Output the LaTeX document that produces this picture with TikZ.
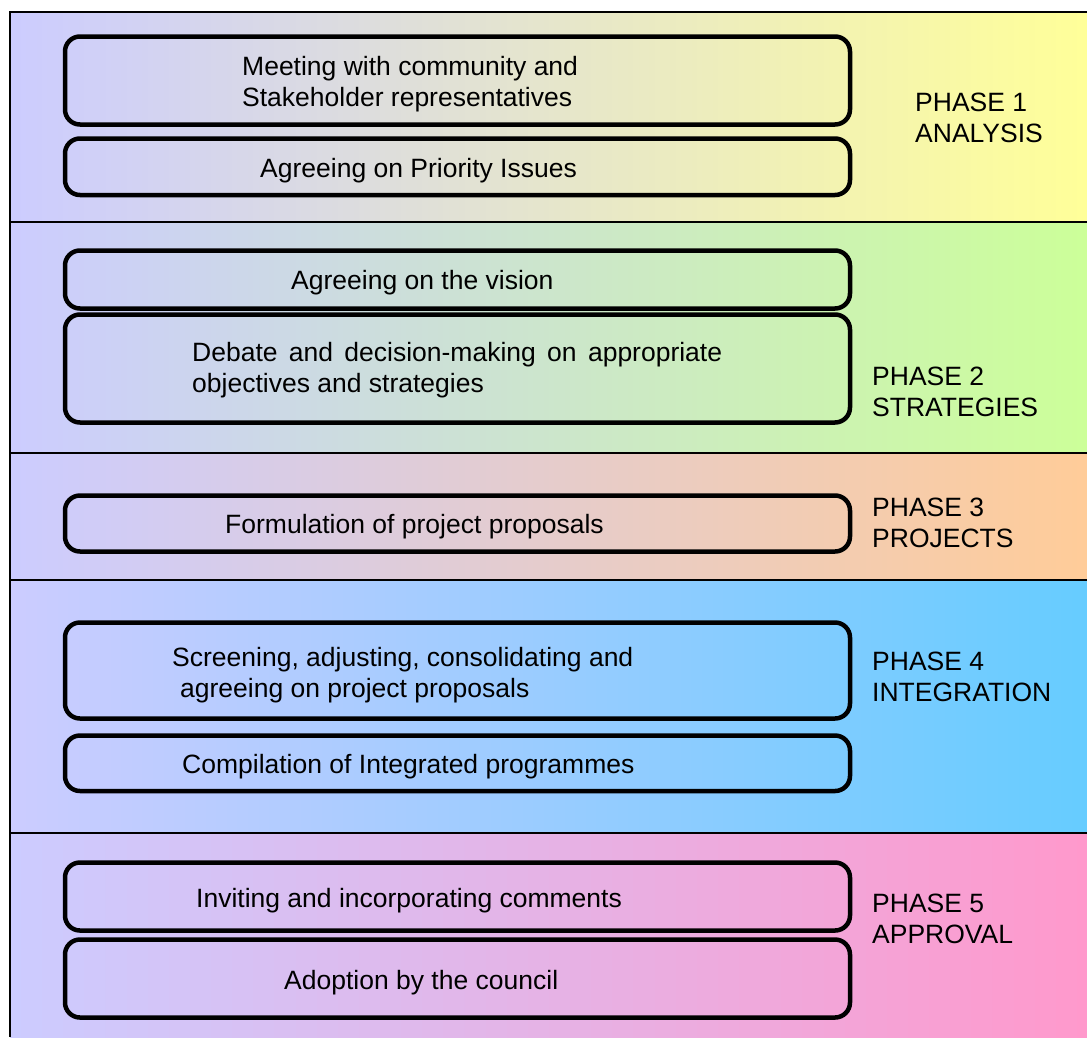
\documentclass[tikz,border=0pt]{standalone}
\usepackage{fontspec}
\setmainfont{Liberation Sans}
\definecolor{lav}{HTML}{CCCCFF}
\definecolor{ph1}{HTML}{FFFF99}
\definecolor{ph2}{HTML}{CCFF99}
\definecolor{ph3}{HTML}{FFCC99}
\definecolor{ph4}{HTML}{66CCFF}
\definecolor{ph5}{HTML}{FF99CC}
\begin{document}
\begin{tikzpicture}[x=1pt,y=-1pt]
		\tikzstyle{stage}=[draw=black,line width=4.5pt,rounded corners=15pt,minimum width=785pt,inner sep=0pt]
		\tikzstyle{txt}=[font=\fontsize{26.5}{31}\selectfont,align=left,inner sep=0pt,anchor=base west]
		\useasboundingbox (0,0) rectangle (1087,1037);
		\shade [left color=lav,right color=ph1] (10,12) rectangle (1087,222);
		\shade [left color=lav,right color=ph2] (10,222) rectangle (1087,453);
		\shade [left color=lav,right color=ph3] (10,453) rectangle (1087,580);
		\shade [left color=lav,right color=ph4] (10,580) rectangle (1087,833);
		\shade [left color=lav,right color=ph5] (10,833) rectangle (1087,1037);
		\draw [black,line width=1.6pt] (1087,12) -- (10,12) -- (10,1037);
		\draw [black,line width=1.6pt] (10,222) -- (1087,222);
		\draw [black,line width=1.6pt] (10,453) -- (1087,453);
		\draw [black,line width=1.6pt] (10,580) -- (1087,580);
		\draw [black,line width=1.6pt] (10,833) -- (1087,833);
		\node [stage,minimum height=88pt] (b1) at (457.5,80.5) {};
		\node [stage,minimum height=56.5pt] (b2) at (457.5,166.75) {};
		\node [stage,minimum height=58pt] (b3) at (457.5,279.5) {};
		\node [stage,minimum height=108pt] (b4) at (457.5,368.5) {};
		\node [stage,minimum height=56pt] (b5) at (457.5,523.5) {};
		\node [stage,minimum height=96pt] (b6) at (457.5,670.5) {};
		\node [stage,minimum height=55.5pt] (b7) at (457.5,763.25) {};
		\node [stage,minimum height=68pt] (b8) at (457.5,896.5) {};
		\node [stage,minimum height=78pt] (b9) at (457.5,978.5) {};
		\node [txt] (meet) at (242,106) {Meeting with community and\\Stakeholder representatives};
		\node [txt] (issues) at (260,177) {Agreeing on Priority Issues};
		\node [txt] (vision) at (291,289) {Agreeing on the vision};
		\node [txt] (debate) at (192,392) {\makebox[530pt][s]{Debate and decision-making on appropriate}\\objectives and strategies};
		\node [txt] (proposals) at (225,533) {Formulation of project proposals};
		\node [txt] (screen) at (172,697) {Screening, adjusting, consolidating and\\\hspace*{8pt}agreeing on project proposals};
		\node [txt] (compile) at (182,773) {Compilation of Integrated programmes};
		\node [txt] (comments) at (196,907) {Inviting and incorporating comments};
		\node [txt] (adopt) at (284,989) {Adoption by the council};
		\node [txt] (p1) at (915,142) {PHASE 1\\ANALYSIS};
		\node [txt] (p2) at (872,416) {PHASE 2\\STRATEGIES};
		\node [txt] (p3) at (872,547) {PHASE 3\\PROJECTS};
		\node [txt] (p4) at (872,701) {PHASE 4\\INTEGRATION};
		\node [txt] (p5) at (872,943) {PHASE 5\\APPROVAL};
\end{tikzpicture}
\end{document}
